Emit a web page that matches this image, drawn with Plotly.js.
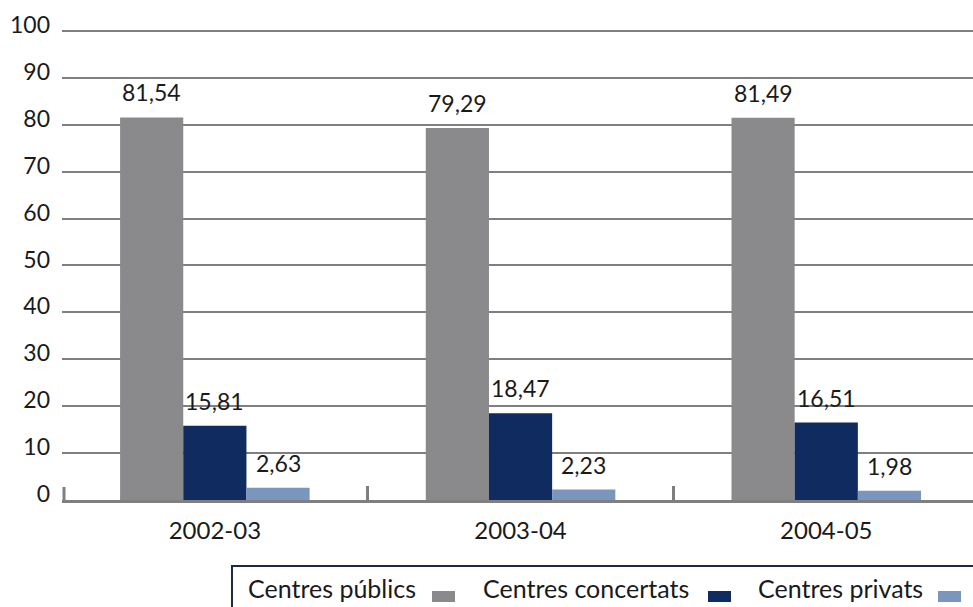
<!DOCTYPE html>
<html><head><meta charset="utf-8">
<script src="https://cdn.plot.ly/plotly-3.0.1.min.js"></script>
<style>body{margin:0;background:#fff}#c{width:973px;height:607px}</style>
</head><body><div id="c"></div>
<script>
const years = ["2002-03", "2003-04", "2004-05"];
const seriesNames = ["Centres públics", "Centres concertats", "Centres privats"];
const publics = [81.54, 79.29, 81.49];
const concertats = [15.81, 18.47, 16.51];
const privats = [2.63, 2.23, 1.98];
const yTicks = [0, 10, 20, 30, 40, 50, 60, 70, 80, 90, 100];
const colors = ["#8a8a8c", "#0f2b5f", "#7a95be"];
const FONT = "Lato, 'Open Sans', sans-serif";

const W = 973, H = 607, ML = 62, MR = 0, MT = 29, MB = 107;
const PW = W - ML - MR, PH = H - MT - MB;
const XR = [-0.5, 2.48], BARGAP = 0.38;
const catPx = PW / (XR[1] - XR[0]);
const barPx = catPx * (1 - BARGAP) / 3;

const values = [publics, concertats, privats];
const traces = values.map((v, i) => ({
  type: "bar", x: years, y: v, name: seriesNames[i],
  marker: {color: colors[i]}, hoverinfo: "skip"
}));

const fmt = v => v.toFixed(2).replace(".", ",");
const px = x => (x - ML) / PW, py = y => (H - MB - y) / PH;

// value labels above bars
const annotations = [];
values.forEach((v, i) => v.forEach((val, j) => annotations.push({
  xref: "x", yref: "y", x: years[j], y: val, xshift: (i - 1) * barPx, yshift: 9,
  xanchor: "center", yanchor: "bottom", text: fmt(val), showarrow: false,
  font: {family: FONT, size: 23, color: "#1a1a1a"}
})));

// custom legend: text followed by swatch, inside a bordered box
const legX = [246, 481, 756];
const swX = [432, 708, 938];
seriesNames.forEach((n, i) => annotations.push({
  xref: "paper", yref: "paper", x: px(legX[i]), y: py(588),
  xanchor: "left", yanchor: "middle", text: n, showarrow: false,
  font: {family: FONT, size: 25, color: "#1a1a1a"}
}));
const shapes = [{type: "rect", xref: "paper", yref: "paper", x0: px(232), x1: px(990), y0: py(566), y1: py(615),
  line: {color: "#1c2a45", width: 2}, fillcolor: "rgba(0,0,0,0)"},
  // left boundary tick of the x axis (partly clipped at plot edge otherwise)
  {type: "line", xref: "paper", yref: "paper", x0: px(64), x1: px(64), y0: py(501), y1: py(487),
   line: {color: "#7f7f7f", width: 3}}]
  .concat(colors.map((c, i) => ({type: "rect", xref: "paper", yref: "paper",
    x0: px(swX[i]), x1: px(swX[i] + 23), y0: py(602), y1: py(591), line: {width: 0}, fillcolor: c})));

const layout = {
  width: W, height: H,
  margin: {l: ML, r: MR, t: MT, b: MB},
  paper_bgcolor: "#fff", plot_bgcolor: "#fff",
  showlegend: false,
  barmode: "group", bargap: BARGAP, bargroupgap: 0,
  font: {family: FONT, color: "#1a1a1a"},
  xaxis: {
    type: "category", range: XR,
    showline: true, linecolor: "#7f7f7f", linewidth: 3,
    ticks: "inside", tickson: "boundaries", ticklen: 14, tickwidth: 3, tickcolor: "#7f7f7f",
    showgrid: false, tickfont: {family: FONT, size: 24, color: "#1a1a1a"},
    ticklabelstandoff: 7
  },
  yaxis: {
    range: [0, 100.4], tickvals: yTicks, ticktext: yTicks.map(String),
    showgrid: true, gridcolor: "#7f7f7f", gridwidth: 2, zeroline: false, showline: false,
    ticks: "", tickfont: {family: FONT, size: 23, color: "#1a1a1a"},
    ticklabelstandoff: 11, ticklabelshift: -6
  },
  annotations: annotations,
  shapes: shapes
};
Plotly.newPlot("c", traces, layout, {staticPlot: true, displayModeBar: false});
</script></body></html>
